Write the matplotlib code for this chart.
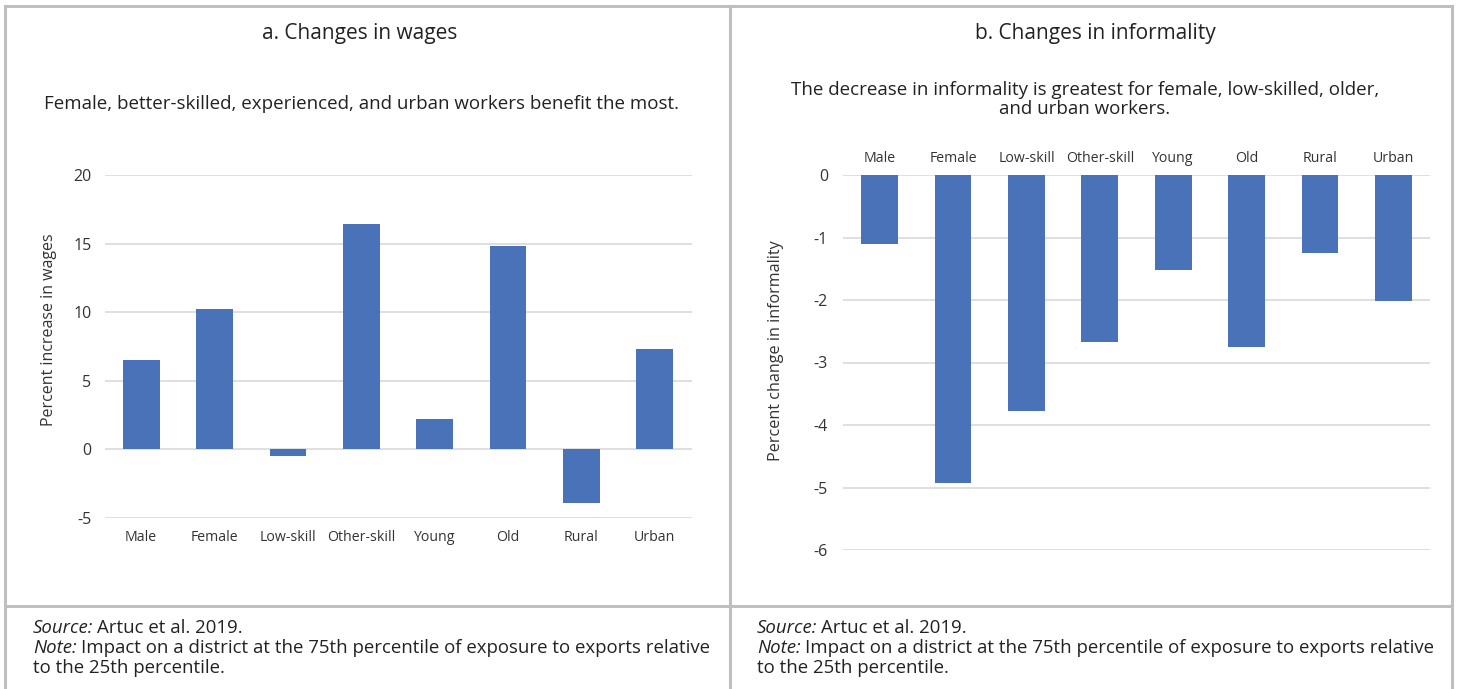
import matplotlib
matplotlib.use("Agg")
import matplotlib.pyplot as plt
from matplotlib.lines import Line2D

plt.rcParams['font.family'] = ['Open Sans', 'DejaVu Sans']

categories = ["Male", "Female", "Low-skill", "Other-skill", "Young", "Old", "Rural", "Urban"]
wages = [6.5, 10.25, -0.5, 16.4, 2.2, 14.8, -3.9, 7.35]
informality = [-1.1, -4.93, -3.78, -2.67, -1.52, -2.75, -1.25, -2.02]

wage_ticks = [-5, 0, 5, 10, 15, 20]
inf_ticks = [-6, -5, -4, -3, -2, -1, 0]

W, H = 1457, 689
fig = plt.figure(figsize=(W / 100, H / 100), dpi=100)
BAR = "#4a72b8"
GRID = "#d9d9d9"
BORDER = "#bfbfbf"
TXT = "#222222"
TICK = "#333333"


def px_axes(x0, y0, x1, y1):
    return fig.add_axes([x0 / W, 1 - y1 / H, (x1 - x0) / W, (y1 - y0) / H])


def fx(x):
    return x / W


def fy(y):
    return 1 - y / H


# Borders
for (x0, y0, x1, y1) in [(5, 6, 1452, 6), (5, 6, 5, 689), (730, 6, 730, 689),
                         (1452, 6, 1452, 689), (5, 606, 1452, 606)]:
    fig.add_artist(Line2D([fx(x0), fx(x1)], [fy(y0), fy(y1)], color=BORDER, lw=2.2,
                          transform=fig.transFigure))

x = list(range(len(categories)))

# Panel a
ax1 = px_axes(104.5, 175, 691.5, 518)
ax1.bar(x, wages, width=0.5, color=BAR, zorder=3)
ax1.set_ylim(-5, 20)
ax1.set_xlim(-0.5, len(categories) - 0.5)
ax1.set_yticks(wage_ticks)
ax1.set_yticklabels([str(t) for t in wage_ticks], fontsize=11.5, color=TICK)
ax1.yaxis.grid(True, color=GRID, lw=1.2, zorder=0)
ax1.set_xticks([])
for s in ax1.spines.values():
    s.set_visible(False)
ax1.tick_params(axis='y', length=0, pad=9.5)
for i, c in enumerate(categories):
    ax1.text(i, -5.85, c, ha='center', va='top', fontsize=10.2, color=TICK)
ax1.set_ylabel("Percent increase in wages", fontsize=11.5, color=TICK)
ax1.yaxis.set_label_coords((57 - 104.5) / 587, (518 - 330) / 343)

fig.text(fx(360), fy(33), "a. Changes in wages", ha='center', va='center', fontsize=15, color=TXT)
fig.text(fx(361), fy(104), "Female, better-skilled, experienced, and urban workers benefit the most.",
         ha='center', va='center', fontsize=13.5, color=TXT)

# Panel b
ax2 = px_axes(843, 175, 1430, 550)
ax2.bar(x, informality, width=0.5, color=BAR, zorder=3)
ax2.set_ylim(-6, 0)
ax2.set_xlim(-0.5, len(categories) - 0.5)
ax2.set_yticks(inf_ticks)
ax2.set_yticklabels([str(t) for t in inf_ticks], fontsize=11.5, color=TICK)
ax2.yaxis.grid(True, color=GRID, lw=1.2, zorder=0)
ax2.set_xticks([])
for s in ax2.spines.values():
    s.set_visible(False)
ax2.tick_params(axis='y', length=0, pad=10.8)
for i, c in enumerate(categories):
    ax2.text(i, 0.27, c, ha='center', va='center', fontsize=10.2, color=TICK, clip_on=False)
ax2.set_ylabel("Percent change in informality", fontsize=11.6, color=TICK)
ax2.yaxis.set_label_coords((784 - 843) / 587, (550 - 351) / 375)

fig.text(fx(1095), fy(33), "b. Changes in informality", ha='center', va='center', fontsize=15, color=TXT)
fig.text(fx(1085), fy(99.5), "The decrease in informality is greatest for female, low-skilled, older,\nand urban workers.",
         ha='center', va='center', fontsize=13.5, color=TXT, linespacing=1.1)

# Notes
fig.canvas.draw()
renderer = fig.canvas.get_renderer()
NFS = 13.4


def label_then_text(x0, y0, lab, rest):
    t = fig.text(fx(x0), fy(y0), lab, ha='left', va='center', fontsize=NFS, color=TXT, style='italic')
    bb = t.get_window_extent(renderer=renderer)
    fig.text(bb.x1 / W + 4 / W, fy(y0), rest, ha='left', va='center', fontsize=NFS, color=TXT)


for x0 in (33, 757):
    label_then_text(x0, 628, "Source:", "Artuc et al. 2019.")
    label_then_text(x0, 648, "Note:", "Impact on a district at the 75th percentile of exposure to exports relative")
    fig.text(fx(x0), fy(668), "to the 25th percentile.", ha='left', va='center', fontsize=NFS, color=TXT)

fig.savefig("out.png", dpi=100)
